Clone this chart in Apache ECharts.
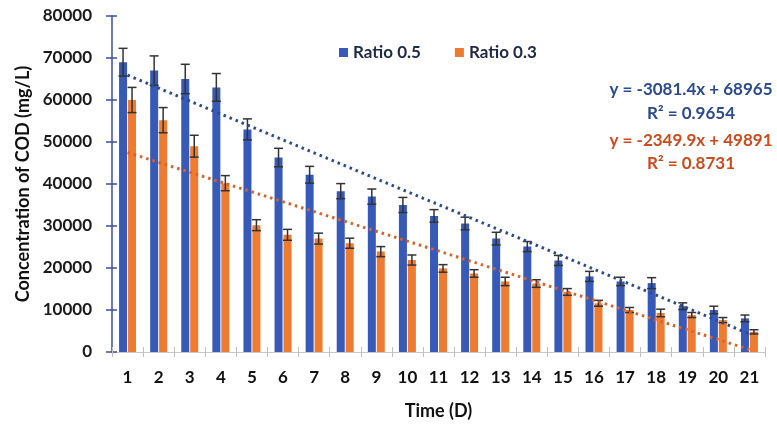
<!DOCTYPE html>
<html>
<head>
<meta charset="utf-8">
<script src="https://cdn.jsdelivr.net/npm/echarts@6/dist/echarts.min.js"></script>
<style>html,body{margin:0;padding:0;background:#fff}#c{width:777px;height:425px}</style>
</head>
<body>
<div id="c"></div>
<script>
const days = ['1','2','3','4','5','6','7','8','9','10','11','12','13','14','15','16','17','18','19','20','21'];
const yTicks = [0, 10000, 20000, 30000, 40000, 50000, 60000, 70000, 80000];
const ratio05 = [69000,67000,65000,63000,53000,46300,42200,38300,37000,35000,32400,30600,27000,25100,21800,18000,16800,16400,10900,10000,8000];
const ratio05Err = [3300,3500,3500,3300,2500,2200,2000,1800,1800,1800,1500,1500,1500,1200,1200,1200,1000,1300,800,900,800];
const ratio03 = [60000,55200,49000,40200,30200,27900,27000,25900,23900,21900,19900,18700,16800,16300,14300,11600,10000,9300,8800,7600,4800];
const ratio03Err = [3000,3000,2600,1800,1300,1300,1300,1200,1200,1200,900,900,1000,900,800,700,600,900,600,600,500];
// trendline values at day 1 and day 21
const trend05 = [65900, 4300];
const trend03 = [47500, 600];
const eq05 = ['y = -3081.4x + 68965', 'R\u00b2 = 0.9654'];
const eq03 = ['y = -2349.9x + 49891', 'R\u00b2 = 0.8731'];
const seriesNames = ['Ratio 0.5', 'Ratio 0.3'];

const BLUE = '#3759b8', ORANGE = '#ee7b30';
const FONT = 'Lato';
const chart = echarts.init(document.getElementById('c'), null, {renderer: 'canvas'});

function trendData(t) {
  return days.map((d, i) => i === 0 ? t[0] : (i === days.length - 1 ? t[1] : null));
}
function errRender(offset) {
  return function (params, api) {
    const i = api.value(0), v = api.value(1), e = api.value(2);
    const x = api.coord([i, v])[0] + offset;
    const yt = api.coord([i, v + e])[1];
    const yb = api.coord([i, v - e])[1];
    const st = {stroke: '#333', lineWidth: 1.5};
    return {type: 'group', children: [
      {type: 'line', shape: {x1: x, y1: yt, x2: x, y2: yb}, style: st},
      {type: 'line', shape: {x1: x - 4.5, y1: yt, x2: x + 4.5, y2: yt}, style: st},
      {type: 'line', shape: {x1: x - 4.5, y1: yb, x2: x + 4.5, y2: yb}, style: st}
    ]};
  };
}

const option = {
  animation: false,
  textStyle: {fontFamily: FONT},
  grid: {left: 112, right: 12, top: 16, bottom: 73},
  legend: {
    data: seriesNames, top: 39, left: 334, itemWidth: 9, itemHeight: 9, itemGap: 34,
    icon: 'rect',
    textStyle: {fontFamily: FONT, fontSize: 17, fontWeight: 'bold', color: '#1f2a44'}
  },
  xAxis: [{
    type: 'category', data: days,
    name: 'Time (D)', nameLocation: 'middle', nameGap: 50,
    nameTextStyle: {fontFamily: FONT, fontSize: 18, fontWeight: 'bold', color: '#111'},
    axisLine: {lineStyle: {color: '#c8c8c8', width: 1}},
    axisTick: {show: true, length: 5, lineStyle: {color: '#c0c0c0'}},
    axisLabel: {fontFamily: FONT, fontSize: 17, fontWeight: 'bold', color: '#111', margin: 17}
  }, {
    type: 'category', data: days, position: 'bottom',
    axisLine: {show: false}, axisLabel: {show: false},
    axisTick: {show: true, inside: true, length: 5, lineStyle: {color: '#c0c0c0'}}
  }],
  yAxis: [{
    type: 'value', min: yTicks[0], max: yTicks[yTicks.length - 1], interval: yTicks[1] - yTicks[0],
    name: 'Concentration of COD (mg/L)', nameLocation: 'middle', nameRotate: 90, nameGap: 78,
    nameTextStyle: {fontFamily: FONT, fontSize: 18, fontWeight: 'bold', color: '#111'},
    axisLine: {show: true, lineStyle: {color: '#3c4f9e', width: 1.5}},
    axisTick: {show: true, length: 6, lineStyle: {color: '#3c4f9e', width: 1.5}},
    axisLabel: {fontFamily: FONT, fontSize: 17, fontWeight: 'bold', color: '#1a1a1a', margin: 20,
                formatter: v => String(v)},
    splitLine: {show: false}
  }, {
    type: 'value', min: yTicks[0], max: yTicks[yTicks.length - 1], interval: yTicks[1] - yTicks[0],
    position: 'left',
    axisLine: {show: false}, axisLabel: {show: false}, splitLine: {show: false},
    axisTick: {show: true, inside: true, length: 5, lineStyle: {color: '#3c4f9e', width: 1.5}}
  }],
  series: [
    {name: seriesNames[0], type: 'bar', data: ratio05, barWidth: 8, barGap: '12%', itemStyle: {color: BLUE}},
    {name: seriesNames[1], type: 'bar', data: ratio03, barWidth: 8, barGap: '12%', itemStyle: {color: ORANGE}},
    {type: 'custom', renderItem: errRender(-4.5), data: days.map((d, i) => [i, ratio05[i], ratio05Err[i]]), encode: {x: 0, y: 1}, z: 3},
    {type: 'custom', renderItem: errRender(4.5), data: days.map((d, i) => [i, ratio03[i], ratio03Err[i]]), encode: {x: 0, y: 1}, z: 3},
    {type: 'line', data: trendData(trend05), connectNulls: true, symbol: 'none', z: 4,
     lineStyle: {color: '#2d4a8c', width: 3, type: [2.5, 4]}},
    {type: 'line', data: trendData(trend03), connectNulls: true, symbol: 'none', z: 4,
     lineStyle: {color: '#d9622c', width: 3, type: [2.5, 4]}}
  ],
  graphic: [
    {type: 'text', x: 691, y: 90, style: {text: eq05[0], fill: '#2b4a8f', font: 'bold 17px Lato', textAlign: 'center', textVerticalAlign: 'middle'}},
    {type: 'text', x: 691, y: 114, style: {text: eq05[1], fill: '#2b4a8f', font: 'bold 17px Lato', textAlign: 'center', textVerticalAlign: 'middle'}},
    {type: 'text', x: 691, y: 141, style: {text: eq03[0], fill: '#cc4b1c', font: 'bold 17px Lato', textAlign: 'center', textVerticalAlign: 'middle'}},
    {type: 'text', x: 691, y: 164, style: {text: eq03[1], fill: '#cc4b1c', font: 'bold 17px Lato', textAlign: 'center', textVerticalAlign: 'middle'}}
  ]
};
chart.setOption(option);
</script>
</body>
</html>
